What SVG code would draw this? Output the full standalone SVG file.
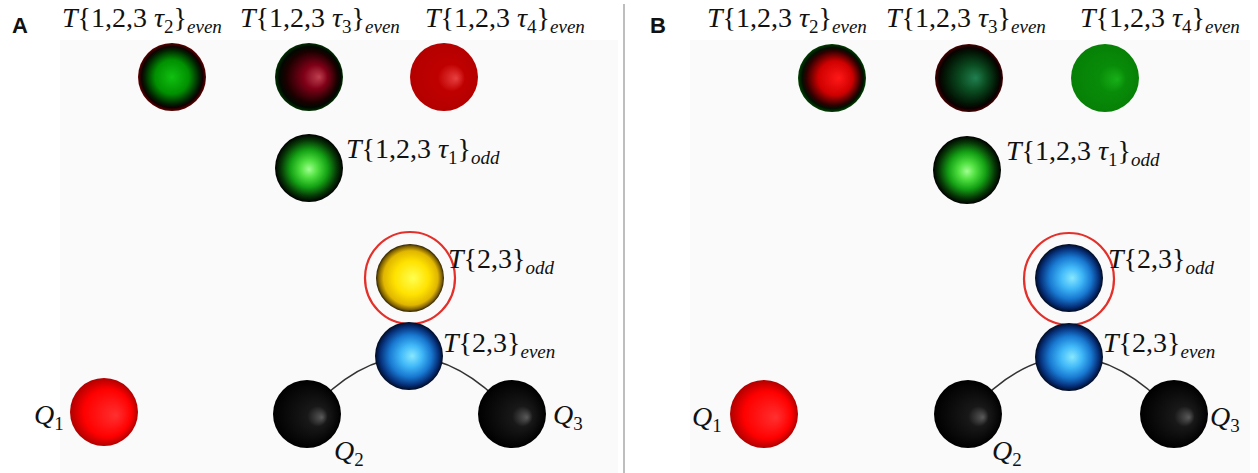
<svg xmlns="http://www.w3.org/2000/svg" width="1258" height="473" viewBox="0 0 1258 473">
  <style>
    .lbl { font-family: "Liberation Serif", "Times New Roman", serif; font-size: 28px; fill: #111; }
    .it { font-style: italic; }
    .sub { font-size: 19px; }
    .panel { font-family: "Liberation Sans", Arial, sans-serif; font-size: 22px; font-weight: bold; fill: #111; }
    .ring { fill: none; stroke: #e3302a; stroke-width: 2.2; }
    .link { fill: none; stroke: #333; stroke-width: 1.6; }
  </style>
  <defs>
    <radialGradient id="gRed" cx="0.5" cy="0.5" r="0.5" fx="0.68" fy="0.55">
      <stop offset="0" stop-color="#ff3030"/>
      <stop offset="0.7" stop-color="#ff0000"/>
      <stop offset="1" stop-color="#b00000"/>
    </radialGradient>
    <radialGradient id="gBlack" cx="0.5" cy="0.5" r="0.5" fx="0.72" fy="0.55">
      <stop offset="0" stop-color="#5a5a5a"/>
      <stop offset="0.3" stop-color="#181818"/>
      <stop offset="1" stop-color="#000"/>
    </radialGradient>
    <radialGradient id="gBlue" cx="0.5" cy="0.5" r="0.5" fx="0.55" fy="0.5">
      <stop offset="0" stop-color="#88e8ff"/>
      <stop offset="0.32" stop-color="#40b8f8"/>
      <stop offset="0.62" stop-color="#1878d0"/>
      <stop offset="0.86" stop-color="#06307a"/>
      <stop offset="1" stop-color="#000a22"/>
    </radialGradient>
    <radialGradient id="gYellow" cx="0.5" cy="0.5" r="0.5" fx="0.55" fy="0.5">
      <stop offset="0" stop-color="#ffff50"/>
      <stop offset="0.5" stop-color="#ffe200"/>
      <stop offset="0.8" stop-color="#e0b600"/>
      <stop offset="0.93" stop-color="#806200"/>
      <stop offset="1" stop-color="#2c2000"/>
    </radialGradient>
    <radialGradient id="gGreen" cx="0.5" cy="0.5" r="0.5" fx="0.5" fy="0.52">
      <stop offset="0" stop-color="#a0ff90"/>
      <stop offset="0.25" stop-color="#50e040"/>
      <stop offset="0.55" stop-color="#14a014"/>
      <stop offset="0.82" stop-color="#063806"/>
      <stop offset="1" stop-color="#000"/>
    </radialGradient>
    <radialGradient id="gGreenRed" cx="0.5" cy="0.5" r="0.5">
      <stop offset="0" stop-color="#10c010"/>
      <stop offset="0.5" stop-color="#009000"/>
      <stop offset="0.8" stop-color="#002200"/>
      <stop offset="0.9" stop-color="#100000"/>
      <stop offset="1" stop-color="#600000"/>
    </radialGradient>
    <radialGradient id="gRedGreen" cx="0.5" cy="0.5" r="0.5" fx="0.6" fy="0.5">
      <stop offset="0" stop-color="#ff1818"/>
      <stop offset="0.5" stop-color="#d00000"/>
      <stop offset="0.8" stop-color="#300000"/>
      <stop offset="0.9" stop-color="#001000"/>
      <stop offset="1" stop-color="#004000"/>
    </radialGradient>
    <radialGradient id="gDarkRed" cx="0.5" cy="0.5" r="0.5" fx="0.65" fy="0.5">
      <stop offset="0" stop-color="#c04050"/>
      <stop offset="0.35" stop-color="#800018"/>
      <stop offset="0.75" stop-color="#1c0000"/>
      <stop offset="0.9" stop-color="#000800"/>
      <stop offset="1" stop-color="#003000"/>
    </radialGradient>
    <radialGradient id="gDarkGreen" cx="0.5" cy="0.5" r="0.5" fx="0.6" fy="0.5">
      <stop offset="0" stop-color="#208050"/>
      <stop offset="0.4" stop-color="#0a4a20"/>
      <stop offset="0.78" stop-color="#021404"/>
      <stop offset="0.9" stop-color="#0a0000"/>
      <stop offset="1" stop-color="#480000"/>
    </radialGradient>
    <radialGradient id="gFlatRed" cx="0.5" cy="0.5" r="0.5" fx="0.68" fy="0.52">
      <stop offset="0" stop-color="#e84040"/>
      <stop offset="0.4" stop-color="#c00000"/>
      <stop offset="1" stop-color="#b40000"/>
    </radialGradient>
    <radialGradient id="gFlatGreen" cx="0.5" cy="0.5" r="0.5" fx="0.68" fy="0.52">
      <stop offset="0" stop-color="#18b018"/>
      <stop offset="0.4" stop-color="#088c08"/>
      <stop offset="1" stop-color="#068006"/>
    </radialGradient>
  </defs>

  <!-- backdrop -->
  <rect width="1258" height="473" fill="#ffffff"/>
  <rect x="60" y="40" width="558" height="433" fill="#fafafa"/>
  <rect x="690" y="40" width="560" height="433" fill="#fafafa"/>
  <line x1="624" y1="4" x2="624" y2="473" stroke="#a8a8a8" stroke-width="1.5"/>

  <!-- panel A -->
  <text class="panel" x="12" y="33">A</text>
  <g id="connectors-a">
    <path class="link" d="M307,414 Q409,300 512,414"/>
  </g>
  <g id="a-t123-tau2">
    <circle cx="172" cy="77" r="34" fill="url(#gGreenRed)"/>
    <text class="lbl" x="62" y="27"><tspan class="it">T</tspan>{1,2,3 <tspan class="it">τ</tspan><tspan class="sub" dy="6">2</tspan><tspan dy="-6">}</tspan><tspan class="sub it" dy="6">even</tspan></text>
  </g>
  <g id="a-t123-tau3">
    <circle cx="309" cy="77" r="34" fill="url(#gDarkRed)"/>
    <text class="lbl" x="240" y="27"><tspan class="it">T</tspan>{1,2,3 <tspan class="it">τ</tspan><tspan class="sub" dy="6">3</tspan><tspan dy="-6">}</tspan><tspan class="sub it" dy="6">even</tspan></text>
  </g>
  <g id="a-t123-tau4">
    <circle cx="444" cy="77" r="34" fill="url(#gFlatRed)"/>
    <text class="lbl" x="425" y="27"><tspan class="it">T</tspan>{1,2,3 <tspan class="it">τ</tspan><tspan class="sub" dy="6">4</tspan><tspan dy="-6">}</tspan><tspan class="sub it" dy="6">even</tspan></text>
  </g>
  <g id="a-t123-tau1">
    <circle cx="309" cy="168" r="34" fill="url(#gGreen)"/>
    <text class="lbl" x="346" y="158"><tspan class="it">T</tspan>{1,2,3 <tspan class="it">τ</tspan><tspan class="sub" dy="6">1</tspan><tspan dy="-6">}</tspan><tspan class="sub it" dy="6">odd</tspan></text>
  </g>
  <g id="a-t23-odd">
    <ellipse class="ring" cx="410" cy="278" rx="45" ry="46"/>
    <circle cx="410" cy="278" r="34" fill="url(#gYellow)"/>
    <text class="lbl" x="448" y="268"><tspan class="it">T</tspan>{2,3}<tspan class="sub it" dy="6">odd</tspan></text>
  </g>
  <g id="a-t23-even">
    <circle cx="409" cy="356" r="34" fill="url(#gBlue)"/>
    <text class="lbl" x="443" y="352"><tspan class="it">T</tspan>{2,3}<tspan class="sub it" dy="6">even</tspan></text>
  </g>
  <g id="a-q1">
    <circle cx="104" cy="412" r="34" fill="url(#gRed)"/>
    <text class="lbl" x="34" y="424"><tspan class="it">Q</tspan><tspan class="sub" dy="6">1</tspan></text>
  </g>
  <g id="a-q2">
    <circle cx="307" cy="414" r="34" fill="url(#gBlack)"/>
    <text class="lbl" x="334" y="460"><tspan class="it">Q</tspan><tspan class="sub" dy="6">2</tspan></text>
  </g>
  <g id="a-q3">
    <circle cx="512" cy="414" r="34" fill="url(#gBlack)"/>
    <text class="lbl" x="553" y="424"><tspan class="it">Q</tspan><tspan class="sub" dy="6">3</tspan></text>
  </g>

  <!-- panel B -->
  <text class="panel" x="650" y="33">B</text>
  <g id="connectors-b">
    <path class="link" d="M968,414 Q1069,300 1174,414"/>
  </g>
  <g id="b-t123-tau2">
    <circle cx="832" cy="78" r="34" fill="url(#gRedGreen)"/>
    <text class="lbl" x="707" y="27"><tspan class="it">T</tspan>{1,2,3 <tspan class="it">τ</tspan><tspan class="sub" dy="6">2</tspan><tspan dy="-6">}</tspan><tspan class="sub it" dy="6">even</tspan></text>
  </g>
  <g id="b-t123-tau3">
    <circle cx="969" cy="78" r="34" fill="url(#gDarkGreen)"/>
    <text class="lbl" x="886" y="27"><tspan class="it">T</tspan>{1,2,3 <tspan class="it">τ</tspan><tspan class="sub" dy="6">3</tspan><tspan dy="-6">}</tspan><tspan class="sub it" dy="6">even</tspan></text>
  </g>
  <g id="b-t123-tau4">
    <circle cx="1105" cy="78" r="34" fill="url(#gFlatGreen)"/>
    <text class="lbl" x="1080" y="27"><tspan class="it">T</tspan>{1,2,3 <tspan class="it">τ</tspan><tspan class="sub" dy="6">4</tspan><tspan dy="-6">}</tspan><tspan class="sub it" dy="6">even</tspan></text>
  </g>
  <g id="b-t123-tau1">
    <circle cx="967" cy="170" r="34" fill="url(#gGreen)"/>
    <text class="lbl" x="1006" y="160"><tspan class="it">T</tspan>{1,2,3 <tspan class="it">τ</tspan><tspan class="sub" dy="6">1</tspan><tspan dy="-6">}</tspan><tspan class="sub it" dy="6">odd</tspan></text>
  </g>
  <g id="b-t23-odd">
    <ellipse class="ring" cx="1069" cy="279" rx="45" ry="46"/>
    <circle cx="1069" cy="278" r="34" fill="url(#gBlue)"/>
    <text class="lbl" x="1108" y="268"><tspan class="it">T</tspan>{2,3}<tspan class="sub it" dy="6">odd</tspan></text>
  </g>
  <g id="b-t23-even">
    <circle cx="1069" cy="357" r="34" fill="url(#gBlue)"/>
    <text class="lbl" x="1103" y="352"><tspan class="it">T</tspan>{2,3}<tspan class="sub it" dy="6">even</tspan></text>
  </g>
  <g id="b-q1">
    <circle cx="764" cy="414" r="34" fill="url(#gRed)"/>
    <text class="lbl" x="692" y="426"><tspan class="it">Q</tspan><tspan class="sub" dy="6">1</tspan></text>
  </g>
  <g id="b-q2">
    <circle cx="968" cy="414" r="34" fill="url(#gBlack)"/>
    <text class="lbl" x="992" y="460"><tspan class="it">Q</tspan><tspan class="sub" dy="6">2</tspan></text>
  </g>
  <g id="b-q3">
    <circle cx="1174" cy="414" r="34" fill="url(#gBlack)"/>
    <text class="lbl" x="1210" y="426"><tspan class="it">Q</tspan><tspan class="sub" dy="6">3</tspan></text>
  </g>
</svg>
